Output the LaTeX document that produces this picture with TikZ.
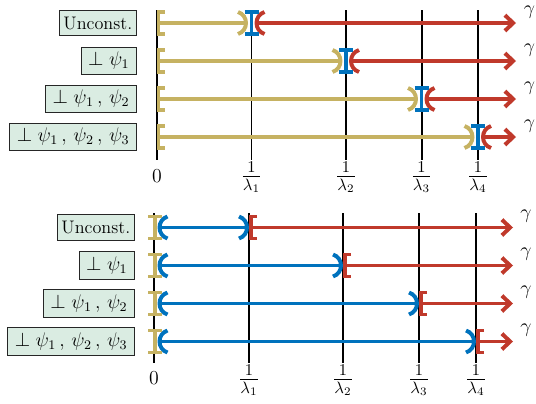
\documentclass[tikz,border=0pt]{standalone}
\usetikzlibrary{arrows.meta}
\definecolor{cgold}{RGB}{198,178,98}
\definecolor{cblue}{RGB}{0,114,189}
\definecolor{cred}{RGB}{192,57,43}
\definecolor{cbox}{RGB}{218,236,226}
\newcommand\drawBrL[2]{\draw[seg,#2,shift={(#1)}] (6,-11) -- (0,-11) -- (0,11) -- (6,11);}
\newcommand\drawParR[2]{\draw[seg,#2,shift={(#1)}] (-8,-11) .. controls (2.65,-7.55) and (2.65,7.55) .. (-8,11);}
\newcommand\drawParL[2]{\draw[seg,#2,shift={(#1)}] (8,-11) .. controls (-2.65,-7.55) and (-2.65,7.55) .. (8,11);}
\newcommand\drawPt[2]{\draw[seg,#2,shift={(#1)}] (-7,-11) -- (7,-11) (0,-11) -- (0,11) (-7,11) -- (7,11);}
\begin{document}
\begin{tikzpicture}[x=0.606pt,y=-0.606pt,
  axis/.style={line width=1.2pt,black},
  seg/.style={line width=2.4pt},
  lbl/.style={draw=black!85,fill=cbox,line width=0.6pt,anchor=east,inner xsep=2.6pt,inner ysep=3.8pt,font=\fontsize{11}{13}\selectfont},
  mlbl/.style={lbl,font=\large,inner xsep=4.2pt,inner ysep=3pt},
  tick/.style={anchor=base,inner sep=0pt,font=\large},
  ftick/.style={anchor=base,inner sep=0pt,font=\Large},
  gam/.style={inner sep=0pt,font=\large},
  arr/.style={seg,-{Straight Barb[length=5pt,width=9.5pt]}}
]
\useasboundingbox (0,0) rectangle (536,403);
% ---------- top panel ----------
\foreach \n/\xx in {0/157,1/251.5,2/346,3/421.5,4/478}
  \draw[axis] (\xx,10) coordinate (ta\n) -- (\xx,160) coordinate (tb\n);
\node[tick] (tt0) at (157,182.5) {$0$};
\foreach \k/\xx in {1/251.5,2/346,3/421.5,4/478}
  \node[ftick] (tt\k) at (\xx,182) {$\frac{1}{\lambda_\k}$};
\node[lbl] (tl1) at (137,23) {Unconst.};
\node[mlbl] (tl2) at (137,61) {$\perp\psi_1$};
\node[mlbl] (tl3) at (137,99) {$\perp\psi_1\,,\,\psi_2$};
\node[mlbl] (tl4) at (137,137) {$\perp\psi_1\,,\,\psi_2\,,\,\psi_3$};
\foreach \k/\xx/\yy in {1/251.5/23,2/346/61,3/421.5/99,4/478/137}{
  \coordinate (tz\k) at (158.5,\yy);
  \coordinate (tp\k) at (\xx,\yy);
  \coordinate (tg\k) at (\xx-5.5,\yy);
  \coordinate (tr\k) at (\xx+5,\yy);
  \coordinate (te\k) at (516,\yy);
  \draw[seg,cgold] (tz\k) -- (tg\k);
  \drawBrL{tz\k}{cgold}
  \drawParR{tg\k}{cgold}
  \draw[arr,cred] (tr\k) -- (te\k);
  \drawParL{tr\k}{cred}
  \drawPt{tp\k}{cblue}
  \node[gam] (tgm\k) at (529.5,\yy-10.5) {$\gamma$};
}
% ---------- bottom panel ----------
\foreach \n/\xx in {0/154,1/249,2/343,3/419,4/476}
  \draw[axis] (\xx,213) coordinate (ba\n) -- (\xx,363) coordinate (bb\n);
\node[tick] (bt0) at (154,384) {$0$};
\foreach \k/\xx in {1/249,2/343,3/419,4/476}
  \node[ftick] (bt\k) at (\xx,385) {$\frac{1}{\lambda_\k}$};
\node[lbl] (bl1) at (135,227.5) {Unconst.};
\node[mlbl] (bl2) at (135,265.5) {$\perp\psi_1$};
\node[mlbl] (bl3) at (135,303.5) {$\perp\psi_1\,,\,\psi_2$};
\node[mlbl] (bl4) at (135,341.5) {$\perp\psi_1\,,\,\psi_2\,,\,\psi_3$};
\foreach \k/\xx/\yy in {1/249/227.5,2/343/265.5,3/419/303.5,4/476/341.5}{
  \coordinate (bz\k) at (155,\yy);
  \coordinate (bs\k) at (159.5,\yy);
  \coordinate (bg\k) at (\xx-2,\yy);
  \coordinate (br\k) at (\xx+2,\yy);
  \coordinate (be\k) at (513,\yy);
  \draw[seg,cblue] (bs\k) -- (bg\k);
  \drawParL{bs\k}{cblue}
  \drawParR{bg\k}{cblue}
  \draw[arr,cred] (br\k) -- (be\k);
  \drawBrL{br\k}{cred}
  \drawPt{bz\k}{cgold}
  \node[gam] (bgm\k) at (526,\yy-11.5) {$\gamma$};
}
\end{tikzpicture}
\end{document}
